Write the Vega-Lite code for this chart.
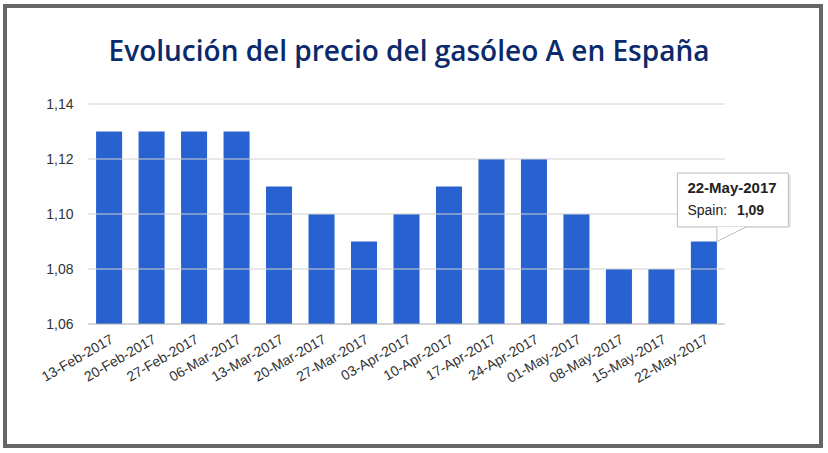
{
  "$schema": "https://vega.github.io/schema/vega-lite/v6.json",
  "width": 816,
  "height": 440,
  "autosize": {"type": "none"},
  "padding": {"left": 5, "top": 6, "right": 7, "bottom": 7},
  "background": "white",
  "title": {
    "text": "Evolución del precio del gasóleo A en España",
    "orient": "top",
    "anchor": "middle",
    "frame": "group",
    "baseline": "alphabetic",
    "offset": -83,
    "dx": -4,
    "font": "Open Sans",
    "fontSize": 28,
    "fontWeight": 600,
    "color": "#0b2a6b"
  },
  "datasets": {
    "precios": [
      {"fecha": "13-Feb-2017", "precio": 1.13},
      {"fecha": "20-Feb-2017", "precio": 1.13},
      {"fecha": "27-Feb-2017", "precio": 1.13},
      {"fecha": "06-Mar-2017", "precio": 1.13},
      {"fecha": "13-Mar-2017", "precio": 1.11},
      {"fecha": "20-Mar-2017", "precio": 1.10},
      {"fecha": "27-Mar-2017", "precio": 1.09},
      {"fecha": "03-Apr-2017", "precio": 1.10},
      {"fecha": "10-Apr-2017", "precio": 1.11},
      {"fecha": "17-Apr-2017", "precio": 1.12},
      {"fecha": "24-Apr-2017", "precio": 1.12},
      {"fecha": "01-May-2017", "precio": 1.10},
      {"fecha": "08-May-2017", "precio": 1.08},
      {"fecha": "15-May-2017", "precio": 1.08},
      {"fecha": "22-May-2017", "precio": 1.09}
    ],
    "rejilla": [
      {"nivel": 1.06},
      {"nivel": 1.08},
      {"nivel": 1.10},
      {"nivel": 1.12},
      {"nivel": 1.14}
    ]
  },
  "layer": [
    {
      "data": {"name": "precios"},
      "mark": {"type": "bar", "color": "#2862d0"},
      "encoding": {
        "x": {
          "field": "fecha",
          "type": "nominal",
          "sort": null,
          "title": null,
          "scale": {"range": [83, 720], "paddingInner": 0.387, "paddingOuter": 0.19},
          "axis": {
            "offset": -122,
            "labelAngle": -30,
            "labelAlign": "right",
            "labelBaseline": "top",
            "labelPadding": 8,
            "labelFont": "Liberation Sans",
            "labelFontSize": 14,
            "labelColor": "#333",
            "domain": false,
            "ticks": false,
            "tickSize": 0
          }
        },
        "y": {
          "field": "precio",
          "type": "quantitative",
          "title": null,
          "scale": {"domain": [1.01564, 1.17564], "nice": false, "zero": false},
          "axis": {
            "values": [1.06, 1.08, 1.10, 1.12, 1.14],
            "format": ".2f",
            "offset": -83,
            "grid": false,
            "domain": false,
            "ticks": false,
            "tickSize": 0,
            "labelPadding": 15,
            "labelFont": "Liberation Sans",
            "labelFontSize": 14,
            "labelColor": "#333"
          }
        },
        "y2": {"datum": 1.06}
      }
    },
    {
      "data": {"name": "rejilla"},
      "mark": {"type": "rule", "xOffset": -21, "x2Offset": 21, "strokeWidth": 1},
      "encoding": {
        "x": {"datum": "13-Feb-2017"},
        "x2": {"datum": "22-May-2017"},
        "y": {"field": "nivel", "type": "quantitative"},
        "color": {
          "condition": {"test": "datum.nivel === 1.06", "value": "#aaaaaa"},
          "value": "#d0d0d0"
        }
      }
    },
    {
      "data": {"name": "precios"},
      "transform": [{"filter": "datum.fecha === '22-May-2017'"}],
      "layer": [
        {
          "mark": {"type": "bar", "width": 111, "xOffset": 31, "yOffset": 2, "fill": "#e6e6e6", "stroke": "#e6e6e6", "strokeWidth": 1},
          "encoding": {
            "x": {"field": "fecha", "type": "nominal", "sort": null},
            "y": {"datum": 1.1149},
            "y2": {"datum": 1.0953}
          }
        },
        {
          "mark": {"type": "bar", "width": 111, "xOffset": 29, "fill": "white", "stroke": "#bbbbbb", "strokeWidth": 1},
          "encoding": {
            "x": {"field": "fecha", "type": "nominal", "sort": null},
            "y": {"datum": 1.1149},
            "y2": {"datum": 1.0953}
          }
        },
        {
          "mark": {"type": "point", "shape": "M0,-1.05 L0,0 L2.1,-1.05", "size": 784, "filled": true, "fill": "white", "stroke": "#bbbbbb", "strokeWidth": 1, "opacity": 1, "xOffset": 13},
          "encoding": {
            "x": {"field": "fecha", "type": "nominal", "sort": null},
            "y": {"field": "precio", "type": "quantitative"}
          }
        },
        {
          "mark": {"type": "text", "align": "left", "baseline": "alphabetic", "dx": -16.5, "font": "Liberation Sans", "fontSize": 15, "fontWeight": "bold", "color": "#222"},
          "encoding": {
            "x": {"field": "fecha", "type": "nominal", "sort": null},
            "y": {"datum": 1.1076},
            "text": {"field": "fecha"}
          }
        },
        {
          "mark": {"type": "text", "align": "left", "baseline": "alphabetic", "dx": -16.5, "font": "Liberation Sans", "fontSize": 14, "color": "#222", "text": "Spain:"},
          "encoding": {
            "x": {"field": "fecha", "type": "nominal", "sort": null},
            "y": {"datum": 1.0996}
          }
        },
        {
          "mark": {"type": "text", "align": "left", "baseline": "alphabetic", "dx": 33, "font": "Liberation Sans", "fontSize": 14, "fontWeight": "bold", "color": "#222"},
          "encoding": {
            "x": {"field": "fecha", "type": "nominal", "sort": null},
            "y": {"datum": 1.0996},
            "text": {"field": "precio", "type": "quantitative", "format": ".2f"}
          }
        }
      ]
    }
  ],
  "config": {
    "locale": {
      "number": {"decimal": ",", "thousands": ".", "grouping": [3], "currency": ["", " €"]}
    },
    "view": {"stroke": "#666666", "strokeWidth": 4, "fill": "white"}
  }
}
